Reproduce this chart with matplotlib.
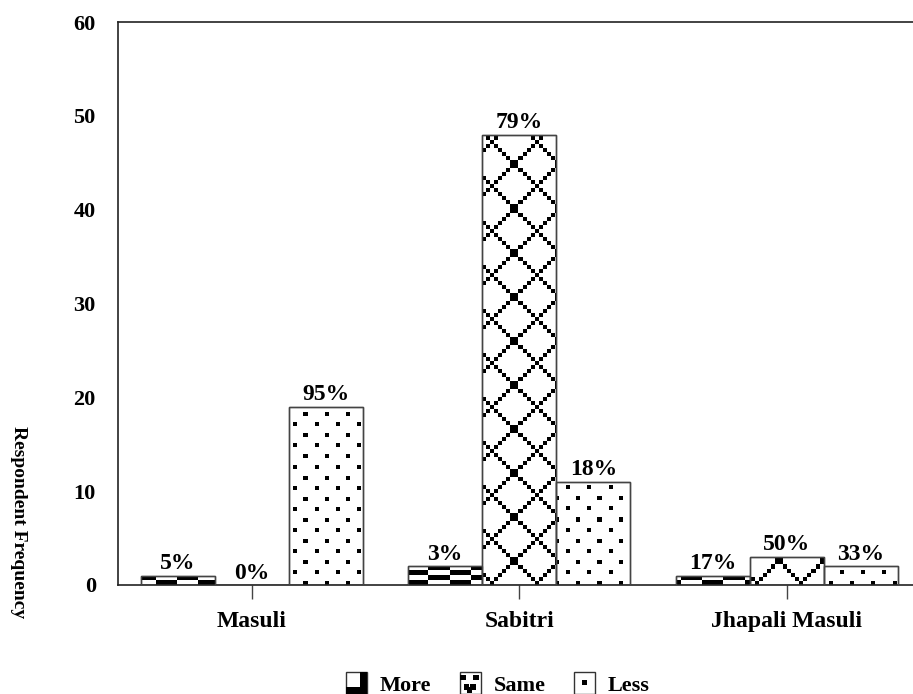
import numpy as np
import matplotlib
matplotlib.use("Agg")
import matplotlib.pyplot as plt
from matplotlib.patches import Rectangle
from matplotlib.legend_handler import HandlerBase

categories = ["Masuli", "Sabitri", "Jhapali Masuli"]
series = ["More", "Same", "Less"]
more = [1, 2, 1]
same = [0, 48, 3]
less = [19, 11, 2]
pct_more = ["5%", "3%", "17%"]
pct_same = ["0%", "79%", "50%"]
pct_less = ["95%", "18%", "33%"]
yticks = [0, 10, 20, 30, 40, 50, 60]

plt.rcParams['font.family'] = ['Liberation Serif', 'DejaVu Serif']
plt.rcParams['font.weight'] = 'bold'

W, H = 913, 694
fig = plt.figure(figsize=(W / 100, H / 100), dpi=100)
ax_l, ax_b = 118 / W, 1 - 585 / H
ax_w = 802.5 / W
ax_h = (585 - 22) / H
ax = fig.add_axes([ax_l, ax_b, ax_w, ax_h])
xlim = (-0.5, 2.5)
ylim = (0, 60)
ax.set_xlim(*xlim)
ax.set_ylim(*ylim)

# pixel textures
pw, ph = int(round(ax_w * W)), int(round(ax_h * H))
px, py = np.meshgrid(np.arange(pw), np.arange(ph))


def rgba(mask):
    img = np.zeros((ph, pw, 4))
    img[..., 3] = mask.astype(float)
    return img


tex_more = rgba((((px + 5) // 21) + (py // 5)) % 2 == 0)
qx, qy = px // 4, py // 4
tex_same = rgba(((qx + qy + 6) % 11 == 0) | ((qx - qy + 6) % 11 == 0))
tex_less = rgba(((py % 21 < 4) & ((px + 4) % 21 < 4)) |
                (((py + 10) % 21 < 4) & ((px + 14) % 21 < 4)))

x = np.arange(len(categories))
bw = 0.277
offsets = [-bw, 0, bw]
vals = [more, same, less]
pcts = [pct_more, pct_same, pct_less]
texs = [tex_more, tex_same, tex_less]

for off, v, p, tex in zip(offsets, vals, pcts, texs):
    bars = ax.bar(x + off, v, width=bw, facecolor='white', edgecolor='#444444',
                  linewidth=1.0, zorder=2)
    for b in bars:
        im = ax.imshow(tex, extent=(*xlim, *ylim), origin='lower',
                       interpolation='nearest', aspect='auto', zorder=2.5)
        im.set_clip_path(b)
        ax.add_patch(Rectangle(b.get_xy(), b.get_width(), b.get_height(),
                               fill=False, edgecolor='#444444', linewidth=1.0,
                               zorder=3))
    for b, t in zip(bars, p):
        ax.annotate(t, (b.get_x() + b.get_width() / 2, b.get_height()),
                    xytext=(0, 1), textcoords='offset points',
                    ha='center', va='bottom', fontsize=17, fontweight='bold')

ax.set_xlim(*xlim)
ax.set_ylim(*ylim)
ax.set_xticks(x)
ax.set_xticklabels(categories, fontsize=17, fontweight='bold')
ax.set_yticks(yticks)
ax.set_yticklabels([str(t) for t in yticks], fontsize=16, fontweight='bold')
ax.tick_params(axis='y', length=0, pad=16)
ax.tick_params(axis='x', length=10, width=1, color='#444444', pad=9)
for s in ['left', 'top', 'bottom', 'right']:
    ax.spines[s].set_color('#222222')
    ax.spines[s].set_linewidth(1.2)

fig.text(18 / W, 1 - 522 / H, "Respondent Frequency", rotation=-90,
         ha='center', va='center', fontsize=14, fontweight='bold')


class IconHandler(HandlerBase):
    def __init__(self, kind):
        super().__init__()
        self.kind = kind

    def create_artists(self, legend, orig_handle, xdescent, ydescent, width,
                       height, fontsize, trans):
        s = height
        x0 = -xdescent + (width - s) / 2
        y0 = -ydescent + (height - s) / 2
        arts = [Rectangle((x0, y0), s, s, facecolor='white',
                          edgecolor='#333333', linewidth=1.0, transform=trans)]
        q = s / 3
        if self.kind == 'More':
            arts.append(Rectangle((x0 + 2 * q, y0), q, s, facecolor='black',
                                  edgecolor='none', transform=trans))
            arts.append(Rectangle((x0, y0), s, q, facecolor='black',
                                  edgecolor='none', transform=trans))
        elif self.kind == 'Same':
            for (a, b) in [(0, 2), (2, 2), (0.5, 0.5), (1.5, 0.5), (1, 0)]:
                arts.append(Rectangle((x0 + a * q * 0.9 + 0.1 * q, y0 + b * q * 0.9 + 0.1 * q),
                                      q * 0.8, q * 0.8, facecolor='black',
                                      edgecolor='none', transform=trans))
        else:
            arts.append(Rectangle((x0 + q * 1.1, y0 + q * 1.2), q * 0.8, q * 0.8,
                                  facecolor='black', edgecolor='none',
                                  transform=trans))
        return arts


handles = [Rectangle((0, 0), 1, 1) for _ in series]
hmap = {h: IconHandler(k) for h, k in zip(handles, series)}
fig.legend(handles, series, handler_map=hmap, loc='center',
           bbox_to_anchor=(497 / W, 1 - 684 / H), ncol=3, frameon=False,
           prop={'family': 'Liberation Serif', 'weight': 'bold', 'size': 16},
           handlelength=1.1, handleheight=1.1, handletextpad=0.5,
           columnspacing=1.2, borderpad=0.0)

fig.savefig("out.png", dpi=100)
